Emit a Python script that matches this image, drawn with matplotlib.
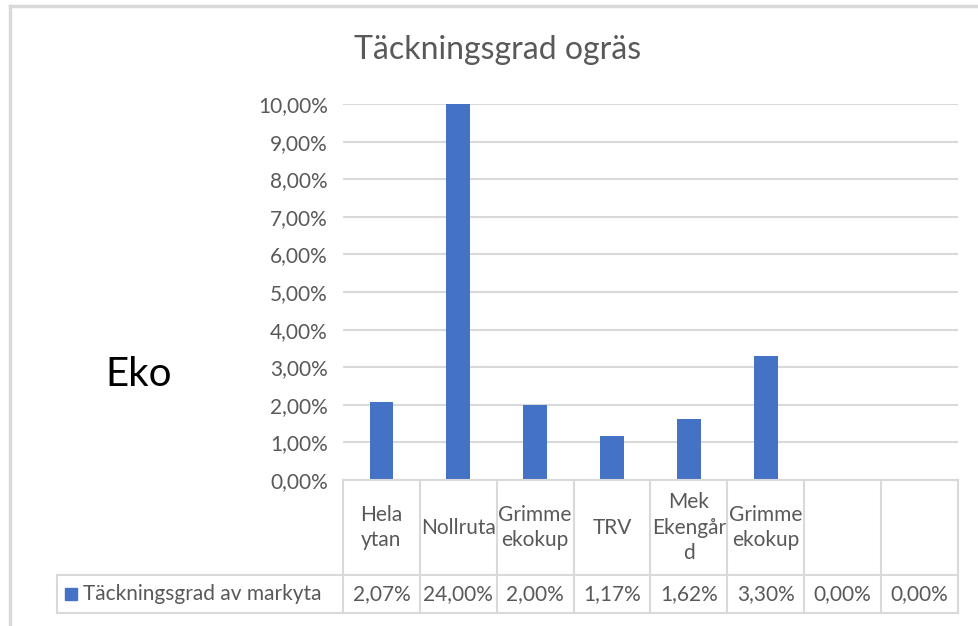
import matplotlib.pyplot as plt
import matplotlib.transforms as mtransforms
from matplotlib.lines import Line2D
from matplotlib.patches import Rectangle
from matplotlib.ticker import FuncFormatter

plt.rcParams['font.family'] = ['Lato', 'DejaVu Sans']

categories = ["Hela\nytan", "Nollruta", "Grimme\nekokup", "TRV", "Mek\nEkengår\nd", "Grimme\nekokup", "", ""]
values = [0.0207, 0.24, 0.02, 0.0117, 0.0162, 0.033, 0.0, 0.0]
series_name = "Täckningsgrad av markyta"
title = "Täckningsgrad ogräs"

W, H = 979, 626
fig = plt.figure(figsize=(W / 100, H / 100), dpi=100)

grey = "#595959"
line_c = "#d9d9d9"
bar_c = "#4472C4"
fs = 15

# axes placed in pixel coordinates of the reference
x0, x1, ytop, ybot = 343, 958, 104, 480
ax = fig.add_axes([x0 / W, 1 - ybot / H, (x1 - x0) / W, (ybot - ytop) / H])

xs = range(len(values))
ax.bar(xs, values, width=0.31, color=bar_c, zorder=3)
ax.set_xlim(-0.5, len(values) - 0.5)
ax.set_ylim(0, 0.10)
ax.set_yticks([i / 100 for i in range(11)])
ax.yaxis.set_major_formatter(FuncFormatter(lambda v, p: f"{v * 100:.2f}%".replace(".", ",")))
ax.tick_params(axis="y", length=0, pad=11, labelsize=fs, labelcolor=grey)
ax.set_xticks([])
ax.grid(axis="y", color=line_c, linewidth=1.5, zorder=0)
for s in ax.spines.values():
    s.set_visible(False)

# data table below the plot
trans = mtransforms.blended_transform_factory(ax.transData, ax.transAxes)
ah = ybot - ytop
row1, row2 = 575, 613
y_hdr = -(row1 - ybot) / ah
y_bot = -(row2 - ybot) / ah
lw = 1.5
for i in range(len(values) + 1):
    ax.add_line(Line2D([i - 0.5, i - 0.5], [0, y_bot], transform=trans, color=line_c, lw=lw, clip_on=False))
ax.add_line(Line2D([-0.5, len(values) - 0.5], [0, 0], transform=trans, color=line_c, lw=lw, clip_on=False, zorder=4))

# rows extending into legend cell (figure coords)
def fx(px):
    return px / W

def fy(py):
    return 1 - py / H

for py in (row1, row2):
    fig.add_artist(Line2D([fx(57), fx(x1)], [fy(py), fy(py)], color=line_c, lw=lw))
fig.add_artist(Line2D([fx(57), fx(57)], [fy(row1), fy(row2)], color=line_c, lw=lw))

for i, (c, v) in enumerate(zip(categories, values)):
    ax.text(i, (y_hdr + 0) / 2, c, transform=trans, ha="center", va="center",
            fontsize=fs, color=grey, linespacing=1.35)
    ax.text(i, (y_hdr + y_bot) / 2, f"{v * 100:.2f}%".replace(".", ","), transform=trans,
            ha="center", va="center", fontsize=fs, color=grey)

# legend key in the table
fig.add_artist(Rectangle((fx(65), fy(600)), 12 / W, 12 / H, color=bar_c))
fig.text(fx(83), fy(594), series_name, ha="left", va="center", fontsize=fs, color=grey)

# title and side label
fig.text(fx(498), fy(50), title, ha="center", va="center", fontsize=23, color=grey)
fig.text(fx(105), fy(375), "Eko", ha="left", va="center", fontsize=29, color="black")

# outer chart frame (screenshot edge)
fig.add_artist(Line2D([fx(10), 1], [fy(6), fy(6)], color="#d9d9d9", lw=2.5))
fig.add_artist(Line2D([fx(10), fx(10)], [fy(6), 0], color="#d9d9d9", lw=2.5))

fig.savefig("out.png", dpi=100)
